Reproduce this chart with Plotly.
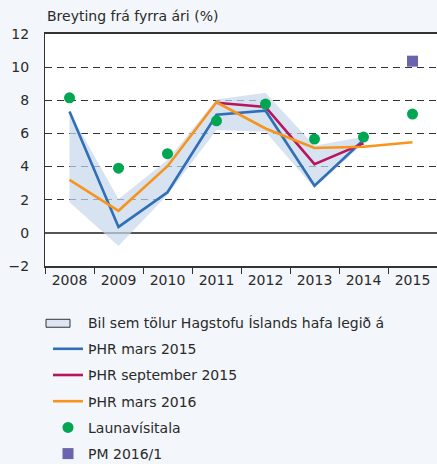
import plotly.graph_objects as go

years = ["2008", "2009", "2010", "2011", "2012", "2013", "2014", "2015"]

band_years = ["2008", "2009", "2010", "2011", "2012", "2013", "2014"]
band_upper = [7.3, 2.05, 4.4, 8.05, 8.45, 5.25, 5.8]
band_lower = [1.85, -0.8, 2.3, 6.2, 6.1, 2.7, 5.4]

phr_mar15_years = ["2008", "2009", "2010", "2011", "2012", "2013", "2014"]
phr_mar15 = [7.33, 0.36, 2.45, 7.13, 7.37, 2.85, 5.6]

phr_sep15_years = ["2011", "2012", "2013", "2014"]
phr_sep15 = [7.85, 7.6, 4.15, 5.4]

phr_mar16_years = ["2008", "2009", "2010", "2011", "2012", "2013", "2014", "2015"]
phr_mar16 = [3.2, 1.33, 4.02, 7.88, 6.3, 5.12, 5.2, 5.47]

launa_years = years
launa = [8.15, 3.9, 4.78, 6.76, 7.77, 5.66, 5.78, 7.17]

pm_years = ["2015"]
pm = [10.36]

BLUE = "#2f6fb7"
RED = "#b7155e"
ORANGE = "#f7941d"
GREEN = "#00a651"
PURPLE = "#6a63ae"
BAND = "rgba(200,215,235,0.7)"
BG = "#f3f6fa"
TXT = "#2a2a2a"

fig = go.Figure()

# band
fig.add_trace(go.Scatter(x=band_years, y=band_lower, mode="lines",
                         line=dict(width=0, color=BAND), showlegend=False,
                         hoverinfo="skip"))
fig.add_trace(go.Scatter(x=band_years, y=band_upper, mode="lines", fill="tonexty",
                         fillcolor=BAND, line=dict(width=0, color=BAND),
                         showlegend=False, hoverinfo="skip"))
# legend entry for band (symbol drawn as a shape below)
fig.add_trace(go.Scatter(x=[None], y=[None], mode="markers",
                         marker=dict(color="rgba(0,0,0,0)", size=1),
                         name="Bil sem tölur Hagstofu Íslands hafa legið á",
                         legendgroup="g0"))

fig.add_trace(go.Scatter(x=phr_mar15_years, y=phr_mar15, mode="lines",
                         line=dict(color=BLUE, width=2.6), name="ÞHR mars 2015",
                         legendgroup="g1"))
fig.add_trace(go.Scatter(x=phr_sep15_years, y=phr_sep15, mode="lines",
                         line=dict(color=RED, width=2.6), name="ÞHR september 2015",
                         legendgroup="g2"))
fig.add_trace(go.Scatter(x=phr_mar16_years, y=phr_mar16, mode="lines",
                         line=dict(color=ORANGE, width=2.6), name="ÞHR mars 2016",
                         legendgroup="g3"))
fig.add_trace(go.Scatter(x=launa_years, y=launa, mode="markers",
                         marker=dict(color=GREEN, size=11, symbol="circle"),
                         name="Launavísitala", legendgroup="g4"))
fig.add_trace(go.Scatter(x=pm_years, y=pm, mode="markers",
                         marker=dict(color=PURPLE, size=11, symbol="square"),
                         name="PM 2016/1", legendgroup="g5"))

fig.update_layout(
    width=437, height=464,
    margin=dict(l=45, r=0, t=34, b=198, autoexpand=False),
    paper_bgcolor=BG, plot_bgcolor="white",
    font=dict(family="DejaVu Sans", size=14, color=TXT),
    showlegend=True,
    legend=dict(xref="container", yref="container", x=48 / 437, xanchor="left",
                y=1 - 307 / 464, yanchor="top",
                bgcolor="rgba(0,0,0,0)", tracegroupgap=5,
                font=dict(size=14, color=TXT), itemwidth=30),
    annotations=[dict(text="Breyting frá fyrra ári (%)", xref="paper", yref="paper",
                      x=0, y=1, xanchor="left", yanchor="bottom", yshift=8,
                      showarrow=False, font=dict(size=14, color=TXT))],
    shapes=[dict(type="rect", xref="paper", yref="paper",
                 x0=0.0026, x1=0.0638, y0=-0.264, y1=-0.2297,
                 fillcolor="#dde6f2", line=dict(color="#333333", width=1))],
)

fig.update_xaxes(type="category", categoryorder="array", categoryarray=years,
                 range=[-0.5, 7.5], showline=True, linecolor="#333333", linewidth=1.5,
                 mirror=True, ticks="outside", tickson="boundaries", ticklen=6,
                 tickcolor="#333333", tickwidth=1.2, showgrid=False, automargin=False,
                 tickfont=dict(size=14, color=TXT))
fig.update_yaxes(range=[-2, 12], dtick=2, showline=True, linecolor="#333333",
                 linewidth=1.2, showgrid=True, gridcolor="#333333", gridwidth=1.3,
                 griddash="7px,5px", zeroline=True, zerolinecolor="#555555",
                 zerolinewidth=1.5, ticks="", ticklabelstandoff=12, automargin=False,
                 tickfont=dict(size=14, color=TXT))

fig.write_html("out.html", config={"displayModeBar": False},
               post_script="document.body.style.margin='0';document.body.style.background='%s';" % BG)
